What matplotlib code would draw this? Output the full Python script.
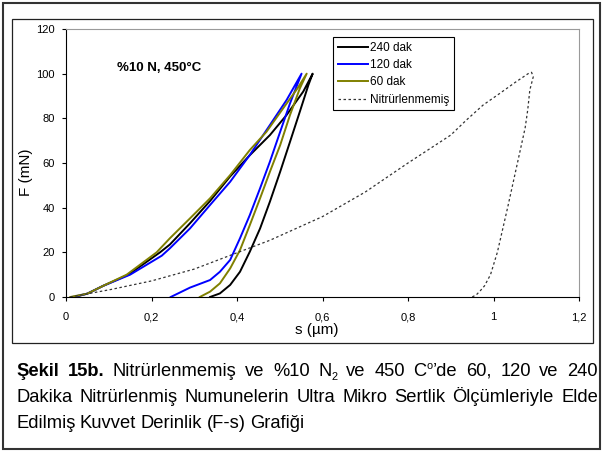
import matplotlib
matplotlib.use("Agg")
import matplotlib.pyplot as plt
from matplotlib.patches import Rectangle
from matplotlib import font_manager

# Figure size in pixels
W, H = 602, 453

# Force-depth data (s in um, F in mN)
s_240_load = [0.02, 0.05, 0.087, 0.146, 0.22, 0.243, 0.29, 0.337, 0.384, 0.43, 0.477, 0.516, 0.555, 0.577]
F_240_load = [0, 1.5, 5, 10, 20, 23.5, 33, 43, 54, 63.5, 72.5, 81.5, 92, 100]
s_240_unload = [0.577, 0.567, 0.547, 0.524, 0.501, 0.477, 0.454, 0.43, 0.407, 0.384, 0.36, 0.337]
F_240_unload = [100, 94.9, 83, 69.5, 56.1, 42.7, 30.7, 20.3, 11.3, 5.4, 1.6, 0]

s_120_load = [0.015, 0.05, 0.087, 0.15, 0.224, 0.243, 0.29, 0.337, 0.384, 0.43, 0.477, 0.516, 0.551]
F_120_load = [0, 1.5, 5, 10, 18.5, 21.8, 30.7, 41.2, 51.6, 63.6, 77, 88.2, 100]
s_120_unload = [0.551, 0.524, 0.501, 0.477, 0.454, 0.43, 0.407, 0.384, 0.36, 0.337, 0.29, 0.245]
F_120_unload = [100, 86.7, 74, 60.6, 48.7, 36.7, 26.3, 16.6, 11.3, 7.6, 4.2, 0]

s_60_load = [0.01, 0.05, 0.087, 0.142, 0.212, 0.243, 0.29, 0.337, 0.384, 0.43, 0.469, 0.508, 0.54, 0.563]
F_60_load = [0, 1.5, 5, 10, 20, 26.3, 35.2, 44.2, 54.6, 65.8, 74, 84.5, 93, 100]
s_60_unload = [0.563, 0.547, 0.524, 0.501, 0.477, 0.454, 0.43, 0.407, 0.384, 0.36, 0.337, 0.313]
F_60_unload = [100, 93.4, 81.5, 68, 56.1, 44.2, 32.2, 21, 12.8, 6.1, 2.4, 0]

s_ref_load = [0.01, 0.106, 0.2, 0.3, 0.4, 0.477, 0.6, 0.7, 0.8, 0.9, 0.937, 0.976, 1.015, 1.05, 1.081, 1.089]
F_ref_load = [0, 3.4, 7.2, 12.5, 19.8, 25.4, 36, 47, 60, 72.5, 79.3, 86, 91.2, 96, 100, 100.6]
s_ref_unload = [1.089, 1.093, 1.085, 1.08, 1.074, 1.056, 1.033, 1.009, 0.993, 0.979, 0.97, 0.96, 0.95]
F_ref_unload = [100.6, 98.6, 92.7, 83.7, 75.7, 60, 40, 20, 10, 5, 3, 1, 0]

series = [
    ("240 dak", "#000000", s_240_load + s_240_unload, F_240_load + F_240_unload, "-"),
    ("120 dak", "#0000FF", s_120_load + s_120_unload, F_120_load + F_120_unload, "-"),
    ("60 dak", "#808000", s_60_load + s_60_unload, F_60_load + F_60_unload, "-"),
    ("Nitrürlenmemiş", "#333333", s_ref_load + s_ref_unload, F_ref_load + F_ref_unload, (0, (2, 2))),
]

x_ticks = [0, 0.2, 0.4, 0.6, 0.8, 1.0, 1.2]
x_tick_labels = ["0", "0,2", "0,4", "0,6", "0,8", "1", "1,2"]
y_ticks = [0, 20, 40, 60, 80, 100, 120]

plt.rcParams["font.family"] = ["Liberation Sans", "DejaVu Sans"]

names = {f.name for f in font_manager.fontManager.ttflist}
cap_font = "Liberation Sans Narrow" if "Liberation Sans Narrow" in names else "Liberation Sans"


def fx(px):
    return px / W


def fy(py):
    return 1 - py / H


fig = plt.figure(figsize=(W / 100, H / 100), dpi=100)
fig.patch.set_facecolor("white")

# outer frame and chart box
fig.patches.append(Rectangle((fx(3), fy(449)), fx(597), (446) / H, transform=fig.transFigure,
                             fill=False, edgecolor="#333333", linewidth=1.5))
fig.patches.append(Rectangle((fx(12), fy(343)), fx(581), (324) / H, transform=fig.transFigure,
                             fill=False, edgecolor="#222222", linewidth=0.9))

ax = fig.add_axes([fx(66), fy(297), (579 - 66) / W, (297 - 29) / H])
for label, color, s, F, ls in series:
    lw = 1.4 if ls == "-" else 0.9
    ax.plot(s, F, color=color, linestyle=ls, linewidth=lw, label=label)

ax.set_xlim(0, 1.2)
ax.set_ylim(0, 120)
ax.set_xticks(x_ticks)
ax.set_xticklabels(x_tick_labels)
ax.set_yticks(y_ticks)
ax.tick_params(axis="both", direction="out", length=3, width=0.8, labelsize=8)
ax.tick_params(axis="x", pad=8)
ax.tick_params(axis="y", pad=5)
for side in ["left", "bottom"]:
    ax.spines[side].set_color("black")
    ax.spines[side].set_linewidth(0.8)
for side in ["top", "right"]:
    ax.spines[side].set_color("#9a9a9a")
    ax.spines[side].set_linewidth(0.8)

fig.text(fx(26), fy(172), "F (mN)", rotation=90, fontsize=11, ha="center", va="center")
fig.text(fx(317), fy(330), "s (µm)", fontsize=11, ha="center", va="center")
fig.text(fx(117), fy(68), "%10 N, 450°C", fontsize=9.5, fontweight="bold", ha="left", va="center")

leg = ax.legend(loc="upper left", bbox_to_anchor=(fx(333), fy(37)), bbox_transform=fig.transFigure,
                fancybox=False, edgecolor="black", framealpha=1, borderaxespad=0, fontsize=8.5,
                handlelength=2.6, handletextpad=0.1, labelspacing=0.45, borderpad=0.4)
leg.get_frame().set_linewidth(0.8)

# caption, justified like the original
renderer = fig.canvas.get_renderer()


def make_line(words, size):
    word_arts = []
    for w in words:
        arts = []
        for txt, kind in w:
            fs = size * (0.6 if kind in ("sub", "sup") else 1)
            t = fig.text(0, 0, txt, fontsize=fs, family=cap_font,
                         fontweight="bold" if kind == "b" else "normal", va="baseline", ha="left")
            arts.append((t, kind))
        word_arts.append(arts)
    widths = [[t.get_window_extent(renderer).width for t, k in arts] for arts in word_arts]
    return word_arts, widths


def place_line(word_arts, widths, y, x0, x1=None):
    total = sum(sum(ws) for ws in widths)
    gap = 4.5 if x1 is None else (x1 - x0 - total) / (len(word_arts) - 1)
    x = x0
    for arts, ws in zip(word_arts, widths):
        for (t, k), w in zip(arts, ws):
            dy = -4 if k == "sub" else (7 if k == "sup" else 0)
            t.set_position((fx(x), fy(y - dy)))
            x += w
        x += gap


def plain(text, kind="n"):
    return [[(w, kind)] for w in text.split()]


line1 = plain("Şekil 15b.", "b") + plain("Nitrürlenmemiş ve %10") + [[("N", "n"), ("2", "sub")]] \
    + plain("ve 450") + [[("C", "n"), ("o", "sup"), ("’de", "n")]] + plain("60, 120 ve 240")
line2 = plain("Dakika Nitrürlenmiş Numunelerin Ultra Mikro Sertlik Ölçümleriyle Elde")
line3 = plain("Edilmiş Kuvvet Derinlik (F-s) Grafiği")

# pick a caption size so the second line fills the width with narrow gaps
probe, probe_w = make_line(line2, 10)
probe_total = sum(sum(ws) for ws in probe_w)
for arts in probe:
    for t, k in arts:
        t.remove()
cap_size = 10 * (582 - 8 * 6) / probe_total

for words, y, right in [(line1, 376, 598), (line2, 402, 598), (line3, 428, None)]:
    arts, ws = make_line(words, cap_size)
    place_line(arts, ws, y, 16, right)

fig.savefig("out.png", dpi=100)
